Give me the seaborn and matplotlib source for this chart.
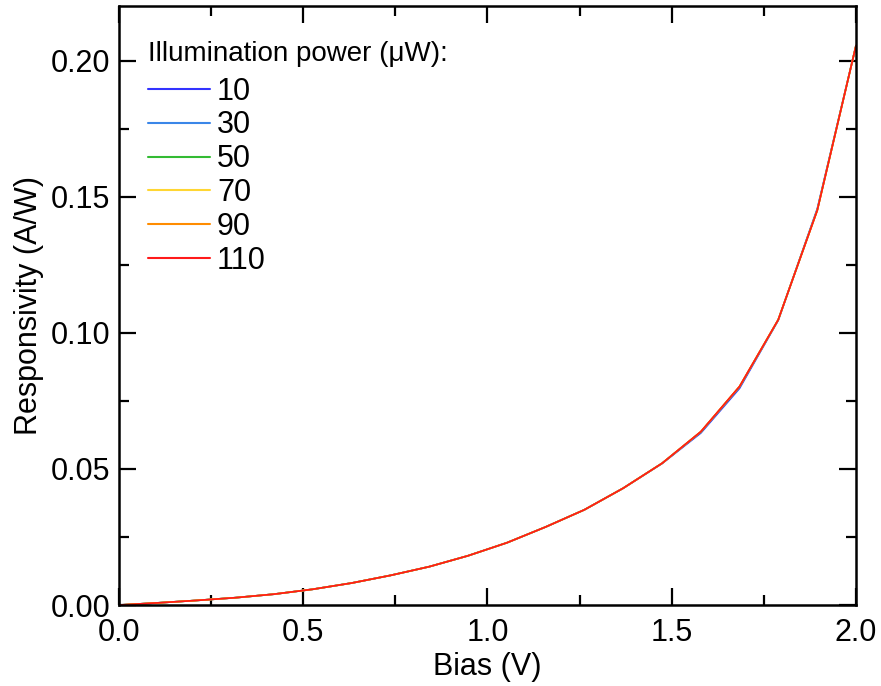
import numpy as np
import pandas as pd
import matplotlib
matplotlib.use("Agg")
import matplotlib.pyplot as plt
import seaborn as sns

# Bias sweep (V)
bias = [0.000, 0.105, 0.211, 0.316, 0.421, 0.526, 0.632, 0.737, 0.842, 0.947,
        1.053, 1.158, 1.263, 1.368, 1.474, 1.579, 1.684, 1.789, 1.895, 2.000]

# Responsivity (A/W) for each illumination power
resp_10 = [0.0000, 0.0008, 0.0017, 0.0027, 0.0040, 0.0058, 0.0081, 0.0109, 0.0141, 0.0181,
           0.0229, 0.0287, 0.0350, 0.0429, 0.0520, 0.0632, 0.0796, 0.1046, 0.1456, 0.2055]
resp_30 = [0.0000, 0.0008, 0.0017, 0.0027, 0.0040, 0.0058, 0.0081, 0.0109, 0.0141, 0.0181,
           0.0229, 0.0287, 0.0350, 0.0429, 0.0521, 0.0635, 0.0800, 0.1047, 0.1452, 0.2055]
resp_50 = [0.0000, 0.0008, 0.0017, 0.0027, 0.0040, 0.0058, 0.0081, 0.0109, 0.0141, 0.0181,
           0.0229, 0.0287, 0.0350, 0.0429, 0.0521, 0.0636, 0.0802, 0.1048, 0.1451, 0.2055]
resp_70 = [0.0000, 0.0008, 0.0017, 0.0027, 0.0040, 0.0058, 0.0081, 0.0109, 0.0141, 0.0181,
           0.0229, 0.0287, 0.0350, 0.0429, 0.0521, 0.0637, 0.0803, 0.1048, 0.1450, 0.2055]
resp_90 = [0.0000, 0.0008, 0.0017, 0.0027, 0.0040, 0.0058, 0.0081, 0.0109, 0.0141, 0.0181,
           0.0229, 0.0287, 0.0350, 0.0429, 0.0521, 0.0637, 0.0803, 0.1048, 0.1450, 0.2055]
resp_110 = [0.0000, 0.0008, 0.0017, 0.0027, 0.0040, 0.0058, 0.0081, 0.0109, 0.0141, 0.0181,
            0.0229, 0.0287, 0.0350, 0.0429, 0.0521, 0.0637, 0.0803, 0.1048, 0.1450, 0.2055]

powers = ["10", "30", "50", "70", "90", "110"]
series = [resp_10, resp_30, resp_50, resp_70, resp_90, resp_110]
colors = ["#3333ff", "#3a86e8", "#33bb33", "#ffd633", "#ff8c00", "#ff1a1a"]

x_ticks = [0.0, 0.5, 1.0, 1.5, 2.0]
y_ticks = [0.00, 0.05, 0.10, 0.15, 0.20]

rows = []
for p, vals in zip(powers, series):
    for b, r in zip(bias, vals):
        rows.append({"bias": b, "resp": r, "power": p})
df = pd.DataFrame(rows)

sns.set_style("ticks")
plt.rcParams["font.family"] = ["Liberation Sans", "DejaVu Sans"]
plt.rcParams["font.size"] = 22
plt.rcParams["text.color"] = "black"
plt.rcParams["axes.labelcolor"] = "black"

fig, ax = plt.subplots(figsize=(8.81, 6.86), dpi=100)
fig.subplots_adjust(left=0.135, right=0.9716, bottom=0.118, top=0.991)

sns.lineplot(data=df, x="bias", y="resp", hue="power", hue_order=powers,
             palette=dict(zip(powers, colors)), linewidth=1.2, ax=ax,
             legend=False, estimator=None, sort=False)

ax.set_xlim(0, 2.0)
ax.set_ylim(0, 0.22)
ax.set_xticks(x_ticks)
ax.set_xticklabels([f"{v:.1f}" for v in x_ticks])
ax.set_yticks(y_ticks)
ax.set_yticklabels([f"{v:.2f}" for v in y_ticks])
ax.set_xticks(np.arange(0.25, 2.0, 0.5), minor=True)
ax.set_yticks(np.arange(0.025, 0.22, 0.05), minor=True)

ax.tick_params(which="both", direction="in", top=True, right=True, width=1.6,
               labelsize=22, colors="black")
ax.tick_params(axis="x", which="major", length=12, pad=9)
ax.tick_params(axis="y", which="major", length=12, pad=6)
ax.tick_params(which="minor", length=7)
for s in ax.spines.values():
    s.set_linewidth(1.8)
    s.set_color("black")

ax.set_xlabel("Bias (V)", fontsize=22, labelpad=3)
ax.set_ylabel("Responsivity (A/W)", fontsize=22, labelpad=5)

handles = [plt.Line2D([], [], color=c, linewidth=1.5) for c in colors]
leg = ax.legend(handles, powers, title="Illumination power (\u03bcW):",
                loc="upper left", bbox_to_anchor=(0.039, 0.942), frameon=False,
                fontsize=22, title_fontsize=20, borderpad=0, borderaxespad=0,
                labelspacing=0.125, handlelength=2.05, handletextpad=0.22,
                alignment="left")
# a little extra room between the title and the entries
leg._legend_box.sep = 7.0

fig.savefig("out.png", dpi=100)
